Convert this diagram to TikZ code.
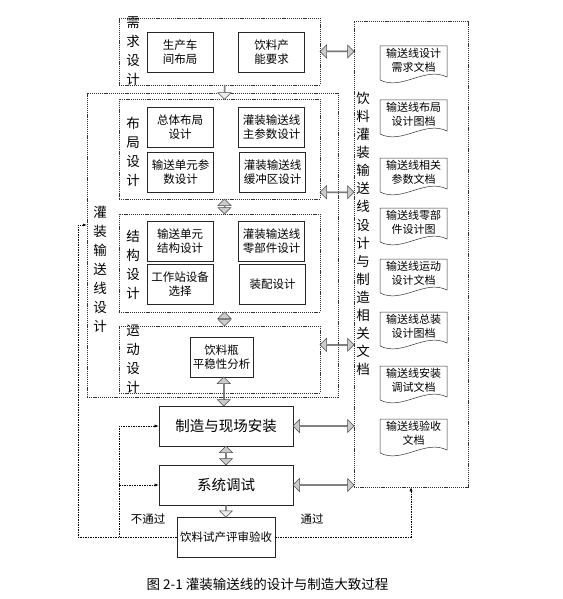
\documentclass[tikz,border=0pt]{standalone}
\usepackage{fontspec}
\usepackage{tikz}
\usetikzlibrary{shapes.arrows,arrows.meta,calc}
\newfontfamily\cjk{Noto Sans CJK SC}

\tikzset{
  frame/.style={draw=black!80, line width=0.5pt, dash pattern=on 1.2pt off 0.9pt},
  box/.style={draw=black!85, line width=0.6pt, minimum width=66pt, minimum height=40pt, inner sep=1pt, align=center, font=\cjk\fontsize{11.5}{14}\selectfont},
  bigbox/.style={box, minimum width=134pt, font=\cjk\fontsize{14.5}{17}\selectfont},
  vlab/.style={inner sep=0pt, align=center, font=\cjk\fontsize{13.5}{19}\selectfont},
  doc/.style={inner sep=0pt, align=center, font=\cjk\fontsize{11}{14}\selectfont},
  fat/.style={double arrow, draw=black!70, fill=gray!40, line width=0.5pt, inner sep=0pt, minimum width=13pt, double arrow head extend=3pt},
  fatone/.style={single arrow, draw=black!70, fill=gray!15, line width=0.5pt, inner sep=0pt, minimum width=13pt, single arrow head extend=3pt},
  fb/.style={line width=0.5pt, dash pattern=on 1.5pt off 1pt, -{Latex[length=4pt,width=3pt]}}
}

\begin{document}
\begin{tikzpicture}[x=1pt,y=-1pt]
\path[use as bounding box, fill=white] (0,0) rectangle (562,599);

% dashed frames
\node[frame, minimum width=251pt, minimum height=304pt] (des) at (212.5,245) {};
\node[frame, minimum width=201pt, minimum height=67pt] (req) at (219.5,51.5) {};
\node[frame, minimum width=201pt, minimum height=100pt] (lay) at (219.5,149) {};
\node[frame, minimum width=201pt, minimum height=98pt] (str) at (219.5,263) {};
\node[frame, minimum width=201pt, minimum height=67pt] (mot) at (219.5,359.5) {};
\node[frame, minimum width=114pt, minimum height=466pt] (docs) at (411,254) {};

% frame labels
\node[vlab] (reqlab) at (133,51) {需\\求\\设\\计};
\node[vlab] (laylab) at (133,151.5) {布\\局\\设\\计};
\node[vlab] (strlab) at (133,265) {结\\构\\设\\计};
\node[vlab] (motlab) at (133,359.5) {运\\动\\设\\计};
\node[vlab] (deslab) at (100,269) {灌\\装\\输\\送\\线\\设\\计};
\node[vlab, font=\cjk\fontsize{13.5}{18.1}\selectfont] (docslab) at (363,234) {饮\\料\\灌\\装\\输\\送\\线\\设\\计\\与\\制\\造\\相\\关\\文\\档};

% design steps
\node[box] (req1) at (180,52) {生产车\\间布局};
\node[box] (req2) at (271.5,52) {饮料产\\能要求};
\node[box] (lay1) at (180,127) {总体布局\\设计};
\node[box] (lay2) at (271.5,127) {灌装输送线\\主参数设计};
\node[box] (lay3) at (180.5,172.5) {输送单元参\\数设计};
\node[box] (lay4) at (272.5,172.5) {灌装输送线\\缓冲区设计};
\node[box] (str1) at (180,241.5) {输送单元\\结构设计};
\node[box] (str2) at (271.5,241.5) {灌装输送线\\零部件设计};
\node[box] (str3) at (180,284.5) {工作站设备\\选择};
\node[box] (str4) at (272.5,284.5) {装配设计};
\node[box, minimum width=63pt] (mot1) at (221.5,357) {饮料瓶\\平稳性分析};

% manufacture and test
\node[bigbox] (make) at (226,426) {制造与现场安装};
\node[bigbox] (test) at (226,485) {系统调试};
\node[box, minimum width=98pt] (accept) at (226,537) {饮料试产评审验收};

% documents
\foreach \n/\y/\t in {1/60/{输送线设计\\需求文档}, 2/114/{输送线布局\\设计图档},
    3/172/{输送线相关\\参数文档}, 4/222/{输送线零部\\件设计图}, 5/273/{输送线运动\\设计文档},
    6/326/{输送线总装\\设计图档}, 7/380/{输送线安装\\调试文档}, 8/433/{输送线验收\\文档}} {
  \node[doc] (d\n) at (413.5,\y) {\t};
  \draw[line width=0.5pt, black!80] ([shift={(-33.5,-14)}]d\n.center) -- ([shift={(33.5,-14)}]d\n.center)
    -- ([shift={(33.5,17)}]d\n.center) .. controls +(-22,-11) and +(22,11) .. ([shift={(-33.5,20)}]d\n.center) -- cycle;
}

% hollow arrows between steps
\node[fatone, rotate=-90, minimum height=14pt] (a1) at ($(req.south)!.5!(lay.north)+(5,0)$) {};
\node[fat, rotate=90, minimum height=15pt] (a2) at ($(lay.south)!.5!(str.north)+(5,0)$) {};
\node[fat, rotate=90, minimum height=14pt] (a3) at ($(str.south)!.5!(mot.north)+(5,0)$) {};
\node[fat, rotate=90, minimum height=29pt] (a4) at ($(mot1.south)!.5!(make.north)$) {};
\node[fat, rotate=90, minimum height=19pt] (a5) at ($(make.south)!.5!(test.north)$) {};
\node[fatone, rotate=-90, minimum height=12pt] (a6) at ($(test.south)!.5!(accept.north)$) {};

% hollow arrows to the documents
\node[fat, minimum height=34pt] (h1) at ($(req.east)!.5!(req.east -| docs.west)$) {};
\node[fat, minimum height=34pt] (h2) at ($(lay.south east)!.5!(lay.south east -| docs.west)+(0,-7)$) {};
\node[fat, minimum height=34pt] (h3) at ($(mot.north east)!.5!(mot.north east -| docs.west)+(0,19)$) {};
\node[fat, minimum height=61pt] (h4) at ($(make.east)!.5!(make.east -| docs.west)$) {};
\node[fat, minimum height=61pt] (h5) at ($(test.east)!.5!(test.east -| docs.west)$) {};

% feedback
\coordinate (fbo) at (78,225);
\coordinate (fbi) at (119,425);
\draw[fb] (accept.west) -| (fbo) -- (fbo -| des.west);
\draw[fb] (fbi |- accept.west) |- (make.west);
\draw[fb] (fbi |- test.west) -- (test.west);
\draw[fb] (accept.east) -| (docs.south);
\node[font=\cjk\fontsize{11.5}{14}\selectfont] (fail) at (148,519) {不通过};
\node[font=\cjk\fontsize{11.5}{14}\selectfont] (pass) at (312,519) {通过};

\node[font=\cjk\fontsize{13.5}{16}\selectfont] (cap) at (267.5,584) {图 2-1 灌装输送线的设计与制造大致过程};
\end{tikzpicture}
\end{document}
